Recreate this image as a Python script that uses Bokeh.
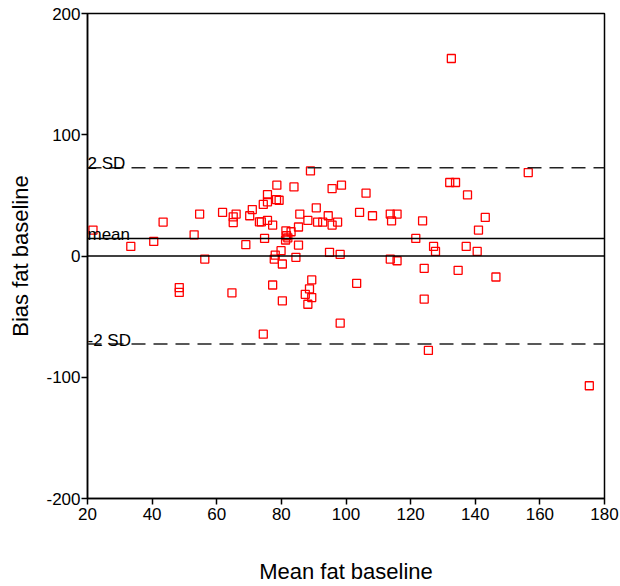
from bokeh.plotting import figure
from bokeh.models import Range1d, FixedTicker, Span, Label
from bokeh.embed import file_html
from bokeh.resources import INLINE

# Mean of the two measurements (x) and bias / difference (y)
mean_fat = [21.7, 33.4, 40.5, 43.4, 53.0, 54.7, 56.3, 48.4, 48.4, 61.8,
            65.1, 65.1, 66.0, 64.7, 69.0, 70.2, 71.0, 73.2, 73.8, 74.4,
            74.4, 89.0, 78.6, 83.9, 95.7, 98.6, 106.2, 75.7, 75.7, 78.5,
            79.3, 75.7, 77.3, 74.8, 85.7, 90.8, 88.2, 85.3, 91.2, 92.8,
            94.5, 95.7, 97.4, 104.2, 108.2, 113.7, 115.8, 114.1, 121.6, 123.7,
            81.4, 83.0, 81.6, 82.0, 81.3, 85.3, 79.9, 78.1, 77.8, 80.3,
            84.5, 94.9, 98.2, 113.7, 115.8, 77.3, 80.3, 89.4, 88.7, 87.4,
            89.4, 88.2, 103.3, 98.2, 124.2, 124.2, 125.5, 132.6, 156.4, 132.1,
            133.9, 137.6, 143.1, 141.0, 127.1, 127.7, 137.2, 140.6, 134.7, 146.4,
            175.3]
bias_fat = [21.4, 7.9, 12.0, 28.0, 17.5, 34.6, -2.5, -26.0, -30.0, 35.9,
            32.3, 27.6, 34.6, -30.4, 9.3, 33.2, 38.3, 28.2, 28.2, -64.5,
            42.5, 70.2, 58.4, 57.0, 55.6, 58.4, 51.8, 50.7, 44.7, 46.5,
            46.0, 29.3, 25.5, 14.5, 34.6, 39.7, 29.3, 23.9, 28.0, 28.0,
            33.2, 25.5, 28.0, 35.9, 33.2, 34.6, 34.6, 29.0, 14.5, 29.0,
            20.8, 20.0, 16.7, 15.0, 13.2, 9.0, 4.4, 0.8, -2.5, -6.6,
            -1.1, 3.0, 1.3, -2.5, -3.9, -23.9, -37.0, -19.7, -27.1, -31.6,
            -34.3, -39.8, -22.5, -55.4, -10.2, -35.5, -77.9, 162.9, 68.8, 60.6,
            60.6, 50.4, 31.8, 21.4, 7.9, 3.8, 7.9, 3.8, -11.8, -17.3,
            -107.0]

mean_bias = 14.5
upper_sd = 72.8
lower_sd = -72.6

x_ticks = [20, 40, 60, 80, 100, 120, 140, 160, 180]
y_ticks = [-200, -100, 0, 100, 200]
y_tick_labels = ["-200", "-100", "0", "100", "200"]

FONT = "Liberation Sans"

p = figure(width=620, height=586, output_backend="svg", toolbar_location=None,
           x_range=Range1d(20, 180), y_range=Range1d(-200, 200),
           min_border_left=87, min_border_right=16, min_border_top=13,
           min_border_bottom=87)

p.xgrid.visible = False
p.ygrid.visible = False
p.outline_line_color = "black"
p.outline_line_width = 1.5
p.outline_line_alpha = 1.0

for ax in (p.xaxis[0], p.yaxis[0]):
    ax.axis_line_color = "black"
    ax.axis_line_width = 1.5
    ax.major_tick_line_color = "black"
    ax.major_tick_line_width = 1.5
    ax.major_tick_out = 6
    ax.major_tick_in = 0
    ax.minor_tick_line_color = None
    ax.major_label_text_font = FONT
    ax.major_label_text_font_size = "17px"
    ax.major_label_text_color = "black"
    ax.axis_label_text_font = FONT
    ax.axis_label_text_font_size = "22px"
    ax.axis_label_text_font_style = "normal"
    ax.axis_label_text_color = "black"

p.xaxis.ticker = FixedTicker(ticks=x_ticks)
p.yaxis.ticker = FixedTicker(ticks=y_ticks)
p.yaxis.major_label_overrides = dict(zip(y_ticks, y_tick_labels))
p.xaxis.axis_label = "Mean fat baseline"
p.yaxis.axis_label = "Bias fat baseline"
p.xaxis.axis_label_standoff = 36
p.yaxis.axis_label_standoff = 10
p.xaxis.major_label_standoff = 3
p.yaxis.major_label_standoff = 1

p.add_layout(Span(location=0, dimension="width", line_color="black", line_width=1.5))
p.add_layout(Span(location=mean_bias, dimension="width", line_color="black", line_width=1.5))
p.add_layout(Span(location=upper_sd, dimension="width", line_color="#222222",
                  line_width=1.6, line_dash="14 8"))
p.add_layout(Span(location=lower_sd, dimension="width", line_color="#222222",
                  line_width=1.6, line_dash="14 8"))

for txt, yv in (("2 SD", upper_sd), ("mean", mean_bias), ("-2 SD", lower_sd)):
    p.add_layout(Label(x=20, y=yv, text=txt, text_font=FONT, text_font_size="17px",
                       text_color="black", text_baseline="alphabetic", text_align="left",
                       y_offset=4))

p.scatter(mean_fat, bias_fat, marker="square", size=8, fill_color=None,
          line_color="red", line_width=1.3)

open("out.html", "w").write(file_html(p, INLINE))
